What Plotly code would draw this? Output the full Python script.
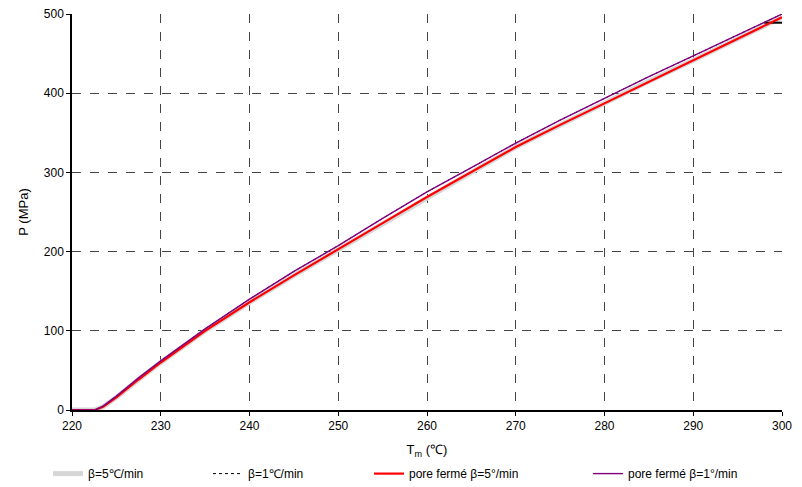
import plotly.graph_objects as go

T = [220, 222.6, 223.5, 225, 227.5, 230, 235, 240, 245, 250, 255, 260, 265, 270, 275, 280, 285, 290, 295, 300]
p_ferme_1 = [0, 0, 5, 17.5, 40.5, 62, 102.5, 140, 175, 207.5, 242, 275.5, 306, 337, 366, 394, 421, 447, 474, 500]
p_ferme_5 = [0, 0, 4, 16, 38.5, 60, 100, 136, 170, 202.5, 236, 269, 300, 332, 360, 387, 415, 441.5, 469, 496]
p_beta_5 = [0, 0, 4, 16, 38.5, 60, 100, 136, 170, 202.5, 236, 269, 300, 332, 360, 387, 415, 441.5, 469, 496]
p_beta_1 = [0, 0, 5, 17.5, 40.5, 62, 102.5, 140, 175, 207.5, 242, 275.5, 306, 337, 366, 394, 421, 447, 474, 500]
seg_T = [298, 300]
seg_P = [489, 489]

names = ["β=5℃/min", "β=1℃/min", "pore fermé β=5°/min", "pore fermé β=1°/min"]
x_ticks = [220, 230, 240, 250, 260, 270, 280, 290, 300]
y_ticks = [0, 100, 200, 300, 400, 500]

FONT = "Liberation Sans, Arial, sans-serif"
W, H = 794, 480

fig = go.Figure()
fig.add_trace(go.Scatter(x=T, y=p_beta_5, mode="lines", name=names[0],
                         line=dict(color="#d6d6d6", width=5), legend="legend2"))
fig.add_trace(go.Scatter(x=T, y=p_beta_1, mode="lines", name=names[1],
                         line=dict(color="black", width=1, dash="dot"), legend="legend3"))
fig.add_trace(go.Scatter(x=seg_T, y=seg_P, mode="lines", showlegend=False,
                         line=dict(color="black", width=2)))
fig.add_trace(go.Scatter(x=T, y=p_ferme_5, mode="lines", name=names[2],
                         line=dict(color="#ff0000", width=2.2), legend="legend4"))
fig.add_trace(go.Scatter(x=T, y=p_ferme_1, mode="lines", name=names[3],
                         line=dict(color="#800080", width=1.4), legend="legend5"))

leg_common = dict(orientation="h", xref="container", yref="container",
                  yanchor="middle", y=0.03, xanchor="left",
                  font=dict(family=FONT, size=12, color="black"),
                  bgcolor="rgba(0,0,0,0)", itemwidth=30)

fig.update_layout(
    width=W, height=H,
    margin=dict(l=64, r=20, t=6, b=78, autoexpand=False),
    paper_bgcolor="white", plot_bgcolor="white",
    font=dict(family=FONT, size=12, color="black"),
    showlegend=True,
    legend2=dict(x=40 / W, **leg_common),
    legend3=dict(x=200 / W, **leg_common),
    legend4=dict(x=361 / W, **leg_common),
    legend5=dict(x=580 / W, **leg_common),
    xaxis=dict(range=[220, 300], tickvals=x_ticks, showgrid=True,
               gridcolor="#444", griddash="dash", gridwidth=1,
               showline=True, linecolor="black", linewidth=1.5,
               ticks="outside", ticklen=4, tickcolor="black",
               zeroline=False, tickfont=dict(size=12), automargin=False,
               ticklabeloverflow="allow",
               title=dict(text="T<sub>m</sub> (℃)", font=dict(size=13), standoff=14)),
    yaxis=dict(range=[0, 500], tickvals=y_ticks, showgrid=True,
               gridcolor="#444", griddash="dash", gridwidth=1,
               showline=True, linecolor="black", linewidth=1.5,
               ticks="outside", ticklen=4, tickcolor="black",
               zeroline=False, tickfont=dict(size=12), automargin=False,
               ticklabeloverflow="allow",
               title=dict(text="P (MPa)", font=dict(size=13), standoff=12)),
)

fig.write_html("out.html")
